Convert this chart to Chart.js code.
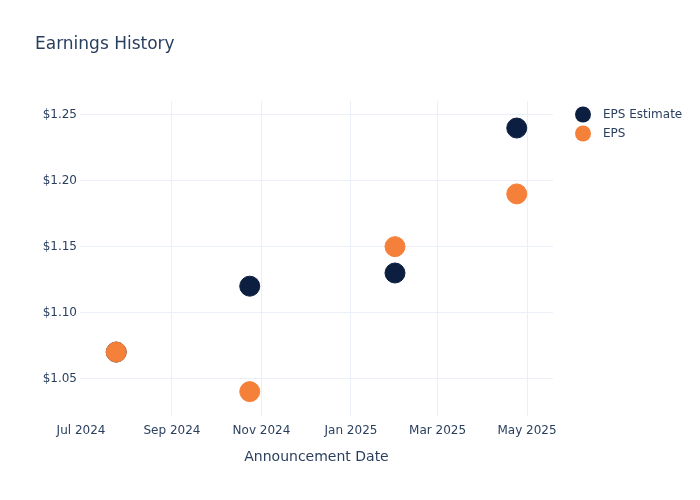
<!DOCTYPE html>
<html>
<head>
<meta charset="utf-8">
<title>Earnings History</title>
<script src="https://cdn.jsdelivr.net/npm/chart.js@4"></script>
<style>
  body { margin: 0; background: #fff; }
  #wrap { width: 700px; height: 500px; position: relative; }
</style>
</head>
<body>
<div id="wrap"><canvas id="earningsChart" width="700" height="500"></canvas></div>
<script>
// announcement dates and values
const dates = ["2024-07-25", "2024-10-24", "2025-01-31", "2025-04-24"];
const epsEstimate = [1.07, 1.12, 1.13, 1.24];
const epsActual = [1.07, 1.04, 1.15, 1.19];

// axis ticks
const xTickDates = ["2024-07-01", "2024-09-01", "2024-11-01", "2025-01-01", "2025-03-01", "2025-05-01"];
const xTickLabels = ["Jul 2024", "Sep 2024", "Nov 2024", "Jan 2025", "Mar 2025", "May 2025"];
const yTicks = [1.05, 1.10, 1.15, 1.20, 1.25];

const DAY = 86400000;
const toTime = (d) => Date.parse(d + "T00:00:00Z");
const xTickValues = xTickDates.map(toTime);

const textColor = "#2a3f5f";
const gridColor = "#ebf0f8";
const fontFamily = "'DejaVu Sans', Verdana, sans-serif";

const titleAndLegend = {
  id: "titleAndLegend",
  afterDraw(chart) {
    const ctx = chart.ctx;
    ctx.save();
    ctx.fillStyle = textColor;
    ctx.font = "17px " + fontFamily;
    ctx.textBaseline = "middle";
    ctx.textAlign = "left";
    ctx.fillText("Earnings History", 35, 45);

    ctx.font = "12px " + fontFamily;
    chart.data.datasets.forEach((ds, i) => {
      const y = 115 + i * 19;
      ctx.beginPath();
      ctx.arc(583, y - 0.5, 8, 0, Math.PI * 2);
      ctx.fillStyle = ds.backgroundColor;
      ctx.fill();
      ctx.fillStyle = textColor;
      ctx.fillText(ds.label, 603, y);
    });
    ctx.restore();
  }
};

new Chart(document.getElementById("earningsChart"), {
  type: "scatter",
  data: {
    datasets: [
      {
        label: "EPS Estimate",
        data: dates.map((d, i) => ({ x: toTime(d), y: epsEstimate[i] })),
        backgroundColor: "#0c1f40",
        borderColor: "#0c1f40",
        pointRadius: 10,
        pointHoverRadius: 10,
        order: 1
      },
      {
        label: "EPS",
        data: dates.map((d, i) => ({ x: toTime(d), y: epsActual[i] })),
        backgroundColor: "#f5803a",
        borderColor: "#f5803a",
        pointRadius: 10,
        pointHoverRadius: 10,
        order: 0
      }
    ]
  },
  options: {
    responsive: false,
    animation: false,
    layout: { padding: { top: 101, right: 147, bottom: 0, left: 0 } },
    plugins: {
      legend: { display: false },
      title: { display: false },
      tooltip: { enabled: false }
    },
    scales: {
      x: {
        type: "linear",
        min: toTime("2024-06-30") + 0.3 * DAY,
        max: toTime("2025-05-18") + 0.7 * DAY,
        afterBuildTicks: (scale) => {
          scale.ticks = xTickValues.map((v) => ({ value: v }));
        },
        afterFit: (scale) => { scale.height = 84; },
        border: { display: false },
        grid: {
          color: (c) => (c.index === 0 ? "rgba(0,0,0,0)" : gridColor),
          drawTicks: false
        },
        ticks: {
          padding: 8,
          color: textColor,
          font: { family: fontFamily, size: 12 },
          maxRotation: 0,
          autoSkip: false,
          callback: (v) => xTickLabels[xTickValues.indexOf(v)]
        },
        title: {
          display: true,
          text: "Announcement Date",
          color: textColor,
          font: { family: fontFamily, size: 14 },
          padding: { top: 0, bottom: 34 }
        }
      },
      y: {
        min: 1.0215,
        max: 1.2605,
        afterBuildTicks: (scale) => {
          scale.ticks = yTicks.map((v) => ({ value: v }));
        },
        afterFit: (scale) => { scale.width = 80; },
        border: { display: false },
        grid: { color: gridColor, drawTicks: false },
        ticks: {
          padding: 3,
          color: textColor,
          font: { family: fontFamily, size: 12 },
          callback: (v) => "$" + v.toFixed(2)
        }
      }
    }
  },
  plugins: [titleAndLegend]
});
</script>
</body>
</html>
